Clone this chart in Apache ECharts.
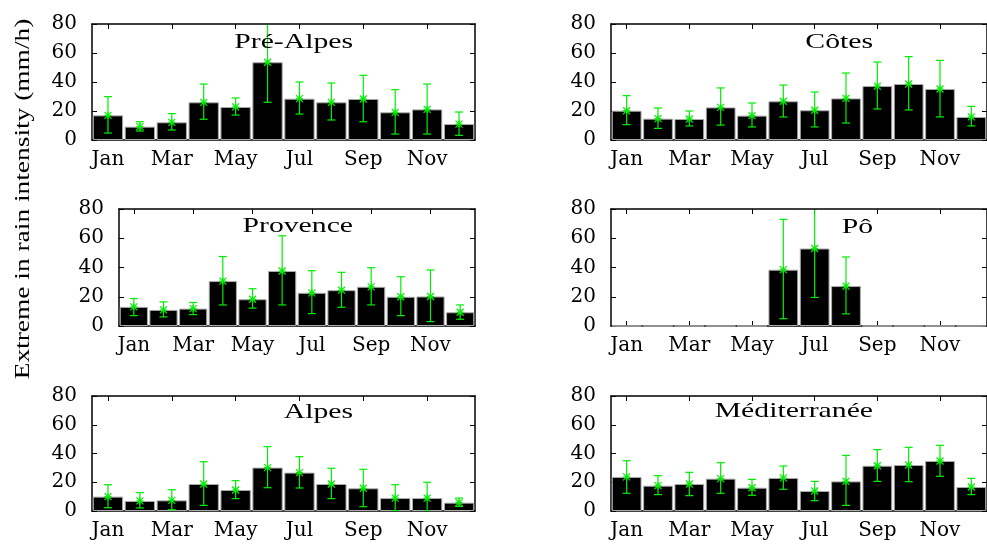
<!DOCTYPE html>
<html>
<head>
<meta charset="utf-8">
<script src="https://cdn.jsdelivr.net/npm/echarts@6/dist/echarts.min.js"></script>
<style>html,body{margin:0;padding:0;background:#fff;}#c{width:987px;height:544px;}</style>
</head>
<body>
<div id="c"></div>
<script>
var months = ['Jan','Feb','Mar','Apr','May','Jun','Jul','Aug','Sep','Oct','Nov','Dec'];
var yTicks = [0, 20, 40, 60, 80];

var preAlpesMean = [17.0, 9.2, 12.2, 26.0, 22.8, 53.6, 28.5, 26.0, 28.3, 19.1, 21.1, 11.0];
var preAlpesLow  = [4.8, 6.2, 6.9, 14.3, 17.2, 26.0, 17.9, 13.8, 12.6, 4.1, 4.1, 3.2];
var preAlpesHigh = [29.9, 12.6, 18.2, 38.6, 29.0, 84.0, 40.0, 39.3, 44.6, 34.7, 38.6, 19.3];

var cotesMean = [20.2, 14.7, 14.5, 22.5, 16.8, 26.7, 20.5, 28.7, 37.2, 38.6, 35.2, 15.9];
var cotesLow  = [10.6, 8.0, 9.7, 10.3, 9.0, 15.9, 9.0, 11.7, 21.4, 20.7, 15.9, 9.7];
var cotesHigh = [30.6, 22.1, 20.0, 35.9, 25.5, 37.9, 33.1, 46.2, 53.8, 57.5, 54.9, 23.2];

var provenceMean = [13.1, 11.0, 11.9, 30.7, 18.3, 37.6, 22.7, 24.5, 26.8, 20.0, 20.2, 9.4];
var provenceLow  = [7.1, 6.2, 7.8, 14.4, 12.2, 14.4, 8.5, 12.8, 14.4, 7.1, 3.0, 4.6];
var provenceHigh = [18.8, 16.5, 16.1, 47.5, 25.5, 61.7, 37.8, 36.7, 39.9, 33.7, 38.3, 14.4];

var poMean = [0, 0, 0, 0, 0, 38.5, 53.0, 27.3, 0, 0, 0, 0];
var poLow  = [0, 0, 0, 0, 0, 5.0, 19.5, 8.3, 0, 0, 0, 0];
var poHigh = [0, 0, 0, 0, 0, 72.9, 85.0, 47.2, 0, 0, 0, 0];

var alpesMean = [10.0, 7.0, 7.4, 18.8, 14.6, 30.2, 26.7, 18.8, 15.8, 9.0, 9.0, 5.8];
var alpesLow  = [2.3, 2.1, 0.9, 3.9, 8.6, 16.2, 16.0, 8.6, 3.0, 0.2, 0.0, 3.2];
var alpesHigh = [18.3, 12.8, 14.8, 34.3, 21.1, 44.8, 37.8, 29.7, 29.0, 18.3, 20.0, 9.0];

var medMean = [23.7, 17.6, 18.8, 22.5, 16.2, 23.0, 13.9, 20.6, 31.5, 32.0, 34.8, 16.7];
var medLow  = [12.3, 11.4, 10.7, 12.3, 10.9, 15.1, 7.2, 3.9, 20.6, 20.4, 24.1, 11.4];
var medHigh = [35.0, 24.6, 26.9, 33.6, 22.0, 31.3, 20.6, 38.7, 42.7, 44.3, 45.7, 22.7];

var panelNames = ['Pré-Alpes', 'Côtes', 'Provence', 'Pô', 'Alpes', 'Méditerranée'];
var panelMeans = [preAlpesMean, cotesMean, provenceMean, poMean, alpesMean, medMean];
var panelLows  = [preAlpesLow, cotesLow, provenceLow, poLow, alpesLow, medLow];
var panelHighs = [preAlpesHigh, cotesHigh, provenceHigh, poHigh, alpesHigh, medHigh];

var grids = [
  {left: 92,  top: 24,  width: 383, height: 116},
  {left: 611, top: 24,  width: 383, height: 116},
  {left: 119, top: 209, width: 356, height: 117},
  {left: 611, top: 209, width: 383, height: 117},
  {left: 92,  top: 396, width: 383, height: 115},
  {left: 611, top: 396, width: 383, height: 115}
];
var titlePos = [[353, 42], [873, 42], [353, 226], [873, 227], [353, 412], [873, 411]];

var GREEN = '#00ee00';
var LABEL_FONT = 'DejaVu Serif';

function renderErr(params, api) {
  var x = api.value(0), lo = api.value(1), hi = api.value(2), m = api.value(3);
  if (hi <= 0) return null;
  var pLo = api.coord([x, lo]), pHi = api.coord([x, hi]), pM = api.coord([x, m]);
  var cx = pLo[0], cap = 4, s = 3.5;
  var st = {stroke: GREEN, lineWidth: 1.2};
  var cs = params.coordSys;
  return {
    type: 'group',
    clipPath: {type: 'rect', shape: {x: cs.x, y: cs.y + 1, width: cs.width, height: cs.height - 1}},
    children: [
      {type: 'line', shape: {x1: cx, y1: pLo[1], x2: cx, y2: pHi[1]}, style: st},
      {type: 'line', shape: {x1: cx - cap, y1: pLo[1], x2: cx + cap, y2: pLo[1]}, style: st},
      {type: 'line', shape: {x1: cx - cap, y1: pHi[1], x2: cx + cap, y2: pHi[1]}, style: st},
      {type: 'line', shape: {x1: cx - s, y1: pM[1] - s, x2: cx + s, y2: pM[1] + s}, style: st},
      {type: 'line', shape: {x1: cx - s, y1: pM[1] + s, x2: cx + s, y2: pM[1] - s}, style: st},
      {type: 'line', shape: {x1: cx - s, y1: pM[1], x2: cx + s, y2: pM[1]}, style: st},
      {type: 'line', shape: {x1: cx, y1: pM[1] - s, x2: cx, y2: pM[1] + s}, style: st}
    ]
  };
}

var xAxes = [], yAxes = [], series = [], graphics = [];
var axisLineStyle = {show: true, onZero: false, lineStyle: {color: '#000', width: 1.5}};
for (var i = 0; i < 6; i++) {
  xAxes.push({
    type: 'category', gridIndex: i, data: months, position: 'bottom',
    axisLine: axisLineStyle,
    axisTick: {show: true, inside: true, alignWithLabel: true, interval: 1, length: 5, lineStyle: {color: '#000'}},
    axisLabel: {show: true, interval: 1, margin: 10, color: '#000', fontFamily: LABEL_FONT, fontSize: 20},
    splitLine: {show: false}
  });
  yAxes.push({
    type: 'value', gridIndex: i, min: yTicks[0], max: yTicks[yTicks.length - 1], interval: 20, position: 'left',
    axisLine: axisLineStyle,
    axisTick: {show: true, inside: true, length: 5, lineStyle: {color: '#000'}},
    axisLabel: {show: true, margin: 15, color: '#000', fontFamily: LABEL_FONT, fontSize: 20},
    splitLine: {show: false}
  });
}
for (var i = 0; i < 6; i++) {
  xAxes.push({
    type: 'category', gridIndex: i, data: months, position: 'top',
    axisLine: axisLineStyle,
    axisTick: {show: true, inside: true, alignWithLabel: true, interval: 1, length: 5, lineStyle: {color: '#000'}},
    axisLabel: {show: false}, splitLine: {show: false}
  });
  yAxes.push({
    type: 'value', gridIndex: i, min: 0, max: 80, interval: 20, position: 'right',
    axisLine: axisLineStyle,
    axisTick: {show: true, inside: true, length: 5, lineStyle: {color: '#000'}},
    axisLabel: {show: false}, splitLine: {show: false}
  });
}

for (var i = 0; i < 6; i++) {
  series.push({
    type: 'bar', xAxisIndex: i, yAxisIndex: i, data: panelMeans[i],
    barCategoryGap: '5%', silent: true,
    itemStyle: {color: '#000', borderColor: '#aaa', borderWidth: 1}
  });
  var ed = [];
  for (var k = 0; k < 12; k++) ed.push([k, panelLows[i][k], panelHighs[i][k], panelMeans[i][k]]);
  series.push({
    type: 'custom', xAxisIndex: i, yAxisIndex: i, data: ed, renderItem: renderErr,
    encode: {x: 0, y: [1, 2, 3]}, silent: true, z: 5
  });
  graphics.push({
    type: 'text', x: titlePos[i][0], y: titlePos[i][1], scaleX: 1.35, z: 10,
    style: {text: panelNames[i], align: 'right', verticalAlign: 'middle',
            font: '22px "Liberation Serif"', fill: '#000'}
  });
}
graphics.push({
  type: 'text', x: 24, y: 199, rotation: Math.PI / 2, scaleX: 1.37,
  style: {text: 'Extreme in rain intensity (mm/h)', align: 'center', verticalAlign: 'middle',
          font: '20px "Liberation Serif"', fill: '#000'}
});

var chart = echarts.init(document.getElementById('c'), null, {renderer: 'canvas'});
chart.setOption({
  animation: false,
  backgroundColor: '#fff',
  grid: grids,
  xAxis: xAxes,
  yAxis: yAxes,
  series: series,
  graphic: graphics
});
</script>
</body>
</html>
